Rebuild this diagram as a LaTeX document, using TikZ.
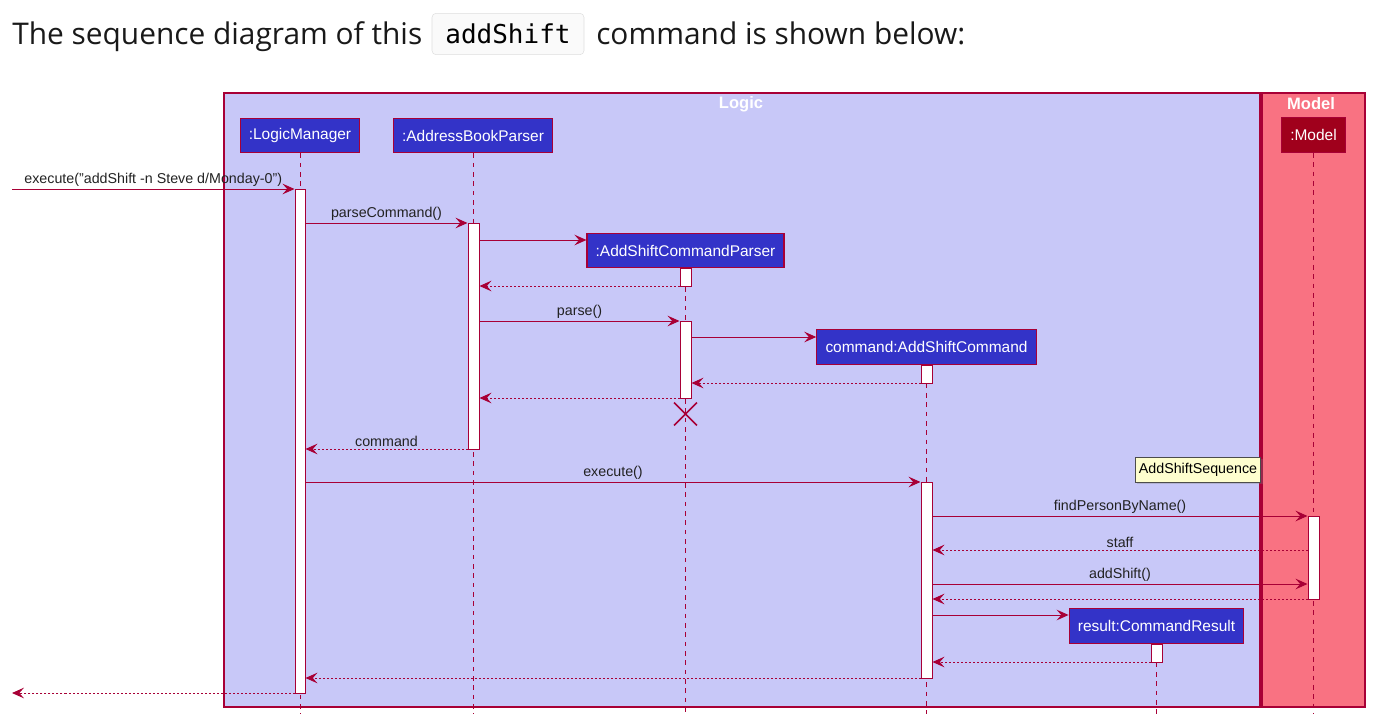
\documentclass[tikz,border=0pt]{standalone}
\usepackage{fontspec}
\setmainfont{Liberation Sans}
\newfontfamily\titlefont{Open Sans}
\setmonofont{DejaVu Sans Mono}
\usetikzlibrary{arrows.meta,positioning,fit,shadows,shapes.misc}
\definecolor{sqred}{HTML}{A80036}
\definecolor{sqlogic}{HTML}{C8C8F8}
\definecolor{sqmodel}{HTML}{F97282}
\definecolor{sqblue}{HTML}{3333C8}
\definecolor{sqdark}{HTML}{A0001C}
\definecolor{sqnote}{HTML}{FEFECE}
\definecolor{sqtext}{HTML}{222222}
\tikzset{
  part/.style={draw=sqred,fill=sqblue,text=white,minimum height=26pt,inner xsep=6.5pt,
               line width=0.9pt,font=\fontsize{11.6}{13}\selectfont},
  act/.style={draw=sqred,fill=white,line width=0.75pt,inner sep=0pt},
  life/.style={sqred,dash pattern=on 3.5pt off 3.5pt,line width=0.75pt},
  msg/.style={-{Stealth[length=9pt,width=8pt,inset=3.5pt]},sqred,line width=0.75pt},
  ret/.style={msg,dash pattern=on 1.5pt off 1.5pt},
  lbl/.style={text=sqtext,font=\fontsize{10.7}{12}\selectfont,inner sep=1.5pt,above},
  frame/.style={draw=sqred,line width=1pt},
  ftitle/.style={text=white,font=\bfseries\fontsize{12.4}{14}\selectfont},
  head/.style={anchor=base west,inner sep=0pt,text=black!90,font=\titlefont\fontsize{22.4}{26}\selectfont},
}
\begin{document}
\begin{tikzpicture}[x=0.75pt,y=-0.75pt]
  \useasboundingbox (0,0) rectangle (1396,725);
  % heading
  \node[head] (t1) at (12,44) {The sequence diagram of this};
  \node[draw=black!13,fill=black!2,rounded corners=3pt,minimum width=114pt,minimum height=31pt,
        font=\ttfamily\fontsize{19.5}{22}\selectfont] (code) at (508,34) {addShift};
  \node[head] (t2) at (596,44) {command is shown below:};
  % boxes
  \draw[frame,fill=sqlogic] (224,93) rectangle (1260,707);
  \draw[frame,fill=sqmodel] (1262,93) rectangle (1365,707);
  \node[ftitle] (logict) at (741,104) {Logic};
  \node[ftitle] (modelt) at (1311,104) {Model};
  % participants
  \node[part] (lm) at (300,135.5) {:LogicManager};
  \node[part] (abp) at (473,135.5) {:AddressBookParser};
  \node[part] (ascp) at (685.5,250.5) {:AddShiftCommandParser};
  \node[part] (asc) at (926.5,347) {command:AddShiftCommand};
  \node[part] (res) at (1156.5,626) {result:CommandResult};
  \node[part,fill=sqdark] (mdl) at (1313.5,135) {:Model};
  \foreach \p in {lm,abp,ascp,asc,res,mdl}
    \draw[life] (\p.south) -- (\p.south |- 0,714);
  % activations
  \node[act,fit={(295,189) (305,693)}] (lmA) {};
  \node[act,fit={(468,223) (479,449)}] (abpA) {};
  \node[act,fit={(680,268) (691,286)}] (ascpA) {};
  \node[act,fit={(680,321) (691,398)}] (ascpB) {};
  \node[act,fit={(921,365) (932,383)}] (ascA) {};
  \node[act,fit={(921,482) (932,678)}] (ascB) {};
  \node[act,fit={(1308,516) (1319,599)}] (mdlA) {};
  \node[act,fit={(1151,644) (1162,662)}] (resA) {};
  \node[cross out,draw=sqred,line width=1.2pt,minimum size=16pt,inner sep=0pt] (ascpX) at (685.5,414) {};
  % messages
  \coordinate (inL) at (12,189);
  \coordinate (outL) at (12,693);
  \draw[msg] (inL) -- (lmA.west |- inL) node[lbl,midway] {execute("addShift -n Steve d/Monday-0")};
  \draw[msg] (lmA.east |- 0,223) -- (abpA.west |- 0,223) node[lbl,midway] {parseCommand()};
  \draw[msg] (abpA.east |- 0,240) -- (ascp.west |- 0,240);
  \draw[ret] (ascpA.west |- 0,286) -- (abpA.east |- 0,286);
  \draw[msg] (abpA.east |- 0,321) -- (ascpB.west |- 0,321) node[lbl,midway] {parse()};
  \draw[msg] (ascpB.east |- 0,337) -- (asc.west |- 0,337);
  \draw[ret] (ascA.west |- 0,383) -- (ascpB.east |- 0,383);
  \draw[ret] (ascpB.west |- 0,398) -- (abpA.east |- 0,398);
  \draw[ret] (abpA.west |- 0,449) -- (lmA.east |- 0,449) node[lbl,midway] {command};
  \draw[msg] (lmA.east |- 0,482) -- (ascB.west |- 0,482) node[lbl,midway] {execute()};
  \draw[msg] (ascB.east |- 0,516) -- (mdlA.west |- 0,516) node[lbl,midway] {findPersonByName()};
  \draw[ret] (mdlA.west |- 0,550) -- (ascB.east |- 0,550) node[lbl,midway] {staff};
  \draw[msg] (ascB.east |- 0,584) -- (mdlA.west |- 0,584) node[lbl,midway] {addShift()};
  \draw[ret] (mdlA.west |- 0,599) -- (ascB.east |- 0,599);
  \draw[msg] (ascB.east |- 0,615) -- (res.west |- 0,615);
  \draw[ret] (resA.west |- 0,662) -- (ascB.east |- 0,662);
  \draw[ret] (ascB.west |- 0,678) -- (lmA.east |- 0,678);
  \draw[ret] (lmA.west |- outL) -- (outL);
  % note
  \node[draw=black!70,fill=sqnote,minimum width=94pt,minimum height=19pt,inner sep=2pt,
        font=\fontsize{10.7}{12}\selectfont,drop shadow={opacity=0.3,shadow xshift=1.5pt,shadow yshift=-1.5pt}]
        (note) at (1198,469.5) {AddShiftSequence};
\end{tikzpicture}
\end{document}
